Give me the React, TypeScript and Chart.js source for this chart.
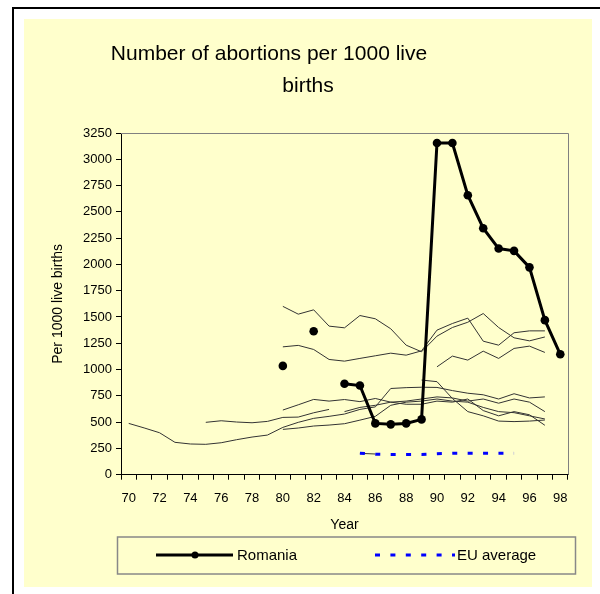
import React, { useEffect, useRef } from 'react';
import { Chart, registerables } from 'chart.js';

Chart.register(...registerables);

const N = null;
const FONT = "'Liberation Sans', Arial, sans-serif";

const years = ['70','71','72','73','74','75','76','77','78','79','80','81','82','83','84','85','86','87','88','89','90','91','92','93','94','95','96','97','98'];

//                70 71 72 73 74 75 76 77 78 79 80    81 82    83 84   85   86   87   88   89   90    91    92    93    94    95    96    97    98
const romania = [N, N, N, N, N, N, N, N, N, N, 1035, N, 1365, N, 865, 848, 488, 479, 488, 526, 3155, 3155, 2658, 2344, 2151, 2129, 1972, 1470, 1145];
const euAverage = [N, N, N, N, N, N, N, N, N, N, N, N, N, N, N, 205, 195, 193, 193, 193, 200, 203, 203, 203, 203, 203, N, N, N];

const country1 = [488, 445, 399, 308, 292, 289, 304, 333, 358, 377, 450, 498, 536, 555, 577, 621, 645, 820, 828, 832, 830, 800, 775, 760, 720, 770, 730, 740, N];
const country2 = [N, N, N, N, N, 498, 513, 501, 494, 507, 545, 548, 589, 621, N, N, N, N, N, N, N, N, N, N, N, N, N, N, N];
const country3 = [N, N, N, N, N, N, N, N, N, N, 1601, 1527, 1568, 1413, 1397, 1514, 1483, 1388, 1232, 1169, 1318, 1400, 1450, 1533, 1400, 1302, 1273, 1310, N];
const country4 = [N, N, N, N, N, N, N, N, N, N, 1216, 1230, 1191, 1096, 1080, 1106, 1131, 1156, 1137, 1178, 1375, 1438, 1489, 1270, 1232, 1350, 1368, 1368, N];
const country5 = [N, N, N, N, N, N, N, N, N, N, 615, 665, 716, 700, 715, 695, 725, 690, 700, 720, 740, 730, 700, 720, 680, 720, 690, 600, N];
const country6 = [N, N, N, N, N, N, N, N, N, N, 431, 444, 463, 472, 485, 519, 555, 660, 690, 700, 720, 700, 690, 640, 600, 590, 560, 530, N];
const country7 = [N, N, N, N, N, N, N, N, N, N, N, N, N, N, 600, 640, 660, 690, 670, 670, 700, 690, 720, 610, 560, 600, 570, 470, N];
const country8 = [N, N, N, N, N, N, N, N, N, N, N, N, N, N, N, N, N, N, N, 900, 885, 725, 600, 560, 510, 505, 510, 520, N];
const country9 = [N, N, N, N, N, N, N, N, N, N, N, N, N, N, N, 203, 197, N, N, N, N, N, N, N, N, N, N, N, N];
const country10 = [N, N, N, N, N, N, N, N, N, N, N, N, N, N, N, N, N, N, N, N, 1026, 1128, 1090, 1175, 1106, 1201, 1223, 1163, N];

const others = [country1, country2, country3, country4, country5, country6, country7, country8, country9, country10];

const yTicks = [0, 250, 500, 750, 1000, 1250, 1500, 1750, 2000, 2250, 2500, 2750, 3000, 3250];

const titleLines = ['Number of abortions per 1000 live', 'births'];
const yTitle = 'Per 1000 live births';
const xTitle = 'Year';
const legendLabels = ['Romania', 'EU average'];

const framePlugin = {
  id: 'frame',
  beforeDatasetsDraw(chart: any) {
    const { ctx, chartArea: a } = chart;
    ctx.save();
    ctx.strokeStyle = '#808080';
    ctx.lineWidth = 1;
    ctx.beginPath();
    ctx.moveTo(a.left, Math.round(a.top) + 0.5);
    ctx.lineTo(Math.round(a.right) + 0.5, Math.round(a.top) + 0.5);
    ctx.lineTo(Math.round(a.right) + 0.5, a.bottom);
    ctx.stroke();
    ctx.restore();
  },
};

const titlePlugin = {
  id: 'customTitle',
  afterDraw(chart: any) {
    const { ctx } = chart;
    ctx.save();
    ctx.fillStyle = '#000';
    ctx.font = `21px ${FONT}`;
    ctx.textAlign = 'center';
    ctx.textBaseline = 'middle';
    ctx.fillText(titleLines[0], 245, 35);
    ctx.fillText(titleLines[1], 284, 67);
    ctx.restore();
  },
};

const legendPlugin = {
  id: 'customLegend',
  afterDraw(chart: any) {
    const { ctx } = chart;
    const ds = chart.data.datasets;
    ctx.save();
    ctx.strokeStyle = '#888';
    ctx.lineWidth = 1.5;
    ctx.strokeRect(93.5, 518, 458, 37);
    const y = 536;
    ctx.strokeStyle = ds[0].borderColor;
    ctx.lineWidth = ds[0].borderWidth;
    ctx.setLineDash([]);
    ctx.beginPath();
    ctx.moveTo(132, y);
    ctx.lineTo(209, y);
    ctx.stroke();
    ctx.fillStyle = ds[0].pointBackgroundColor;
    ctx.beginPath();
    ctx.arc(171, y, 3.5, 0, Math.PI * 2);
    ctx.fill();
    ctx.strokeStyle = ds[1].borderColor;
    ctx.lineWidth = ds[1].borderWidth;
    ctx.setLineDash(ds[1].borderDash);
    ctx.beginPath();
    ctx.moveTo(351, y);
    ctx.lineTo(431, y);
    ctx.stroke();
    ctx.setLineDash([]);
    ctx.fillStyle = '#000';
    ctx.font = `15px ${FONT}`;
    ctx.textAlign = 'left';
    ctx.textBaseline = 'middle';
    ctx.fillText(legendLabels[0], 213, y + 1);
    ctx.fillText(legendLabels[1], 433, y + 1);
    ctx.restore();
  },
};

export default function App() {
  const ref = useRef<HTMLCanvasElement>(null);

  useEffect(() => {
    if (!ref.current) return;
    const datasets: any[] = [
      {
        label: legendLabels[0],
        data: romania,
        borderColor: '#000',
        backgroundColor: '#000',
        borderWidth: 3,
        pointRadius: 4.3,
        pointBackgroundColor: '#000',
        pointBorderColor: '#000',
        pointBorderWidth: 0,
        spanGaps: false,
        tension: 0,
      },
      {
        label: legendLabels[1],
        data: euAverage,
        borderColor: '#0000FF',
        borderWidth: 3,
        borderDash: [5, 10.4],
        pointRadius: 0,
        spanGaps: false,
        tension: 0,
      },
      ...others.map((d, i) => ({
        label: 'c' + (i + 1),
        data: d,
        borderColor: '#333333',
        borderWidth: 1,
        pointRadius: 0,
        spanGaps: false,
        tension: 0,
      })),
    ];

    const chart = new Chart(ref.current, {
      type: 'line',
      data: { labels: years, datasets },
      options: {
        responsive: false,
        animation: false,
        devicePixelRatio: 1,
        events: [],
        layout: { padding: { left: 0, top: 114, right: 24, bottom: 0 } },
        plugins: {
          legend: { display: false },
          title: { display: false },
          tooltip: { enabled: false },
        },
        scales: {
          x: {
            type: 'category',
            offset: true,
            grid: {
              offset: true,
              drawOnChartArea: false,
              drawTicks: true,
              tickLength: 5,
              color: '#000',
            },
            border: { color: '#000', width: 1 },
            ticks: {
              autoSkip: false,
              maxRotation: 0,
              minRotation: 0,
              padding: 11,
              color: '#000',
              font: { family: FONT, size: 13 },
              callback: (_v: any, i: number) => (i % 2 === 0 ? years[i] : ''),
            },
            title: {
              display: true,
              text: xTitle,
              color: '#000',
              font: { family: FONT, size: 14 },
              padding: { top: 0, bottom: 53.6 },
            },
            afterFit: (s: any) => {
              s.height = 112.3;
            },
          },
          y: {
            min: 0,
            max: 3250,
            afterBuildTicks: (s: any) => {
              s.ticks = yTicks.map((v) => ({ value: v }));
            },
            grid: {
              drawOnChartArea: false,
              drawTicks: true,
              tickLength: 5,
              color: '#000',
            },
            border: { color: '#000', width: 1 },
            ticks: {
              padding: 4,
              color: '#000',
              font: { family: FONT, size: 13 },
              callback: (v: any) => String(v),
            },
            title: {
              display: true,
              text: yTitle,
              color: '#000',
              font: { family: FONT, size: 14 },
              padding: { top: 25.6, bottom: 0 },
            },
            afterFit: (s: any) => {
              s.width = 97;
            },
          },
        },
      },
      plugins: [framePlugin, titlePlugin, legendPlugin],
    });
    return () => chart.destroy();
  }, []);

  return (
    <div style={{ position: 'fixed', left: 0, top: 0, width: 600, height: 594, background: '#fff', overflow: 'hidden' }}>
      <div
        style={{
          position: 'absolute',
          left: 12,
          top: 7,
          width: 620,
          height: 620,
          borderLeft: '2px solid #000',
          borderTop: '2px solid #000',
        }}
      />
      <canvas
        ref={ref}
        width={568}
        height={568}
        style={{ position: 'absolute', left: 24, top: 19, width: 568, height: 568, background: '#FFFFCC' }}
      />
    </div>
  );
}
